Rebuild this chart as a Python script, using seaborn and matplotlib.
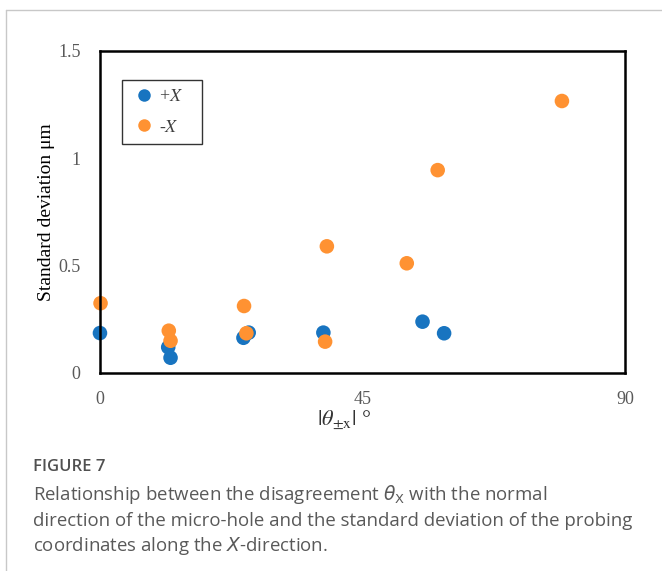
import matplotlib
matplotlib.use("Agg")
import matplotlib.pyplot as plt
import seaborn as sns
import pandas as pd
from matplotlib.lines import Line2D

# Data
plus_x_angle = [0.0, 11.7, 12.1, 24.6, 25.5, 38.3, 55.3, 59.0]
plus_x_std = [0.186, 0.120, 0.071, 0.164, 0.188, 0.188, 0.239, 0.185]
minus_x_angle = [0.1, 11.8, 12.1, 24.7, 25.1, 38.6, 38.9, 52.6, 57.9, 79.2]
minus_x_std = [0.325, 0.197, 0.150, 0.312, 0.185, 0.146, 0.590, 0.511, 0.945, 1.267]
series_labels = [r"+$X$", r"-$X$"]
x_ticks = [0, 45, 90]
y_ticks = [0, 0.5, 1, 1.5]
y_tick_labels = ["0", "0.5", "1", "1.5"]

df = pd.DataFrame({
    "angle": plus_x_angle + minus_x_angle,
    "std": plus_x_std + minus_x_std,
    "series": [series_labels[0]] * len(plus_x_angle) + [series_labels[1]] * len(minus_x_angle),
})
palette = {series_labels[0]: "#1874c0", series_labels[1]: "#ff9232"}

sns.set_style("white")
plt.rcParams["font.family"] = ["Liberation Serif", "DejaVu Serif"]
plt.rcParams["mathtext.fontset"] = "stix"

fig = plt.figure(figsize=(6.62, 5.71), dpi=100)
ax = fig.add_axes([0.151, 0.3468, 0.793, 0.5639])

sns.scatterplot(data=df, x="angle", y="std", hue="series", palette=palette,
                s=110, edgecolor="none", ax=ax, clip_on=False, legend=False)

ax.set_xlim(0, 90)
ax.set_ylim(0, 1.5)
ax.set_xticks(x_ticks)
ax.set_xticklabels([str(t) for t in x_ticks])
ax.set_yticks(y_ticks)
ax.set_yticklabels(y_tick_labels)
ax.tick_params(axis="x", direction="in", length=5, width=1.5, pad=13,
               labelsize=13, labelcolor="#595959", color="black")
ax.tick_params(axis="y", length=0, pad=14, labelsize=13, labelcolor="#595959")

for sp in ax.spines.values():
    sp.set_visible(True)
    sp.set_color("black")
    sp.set_linewidth(1.8)

ax.set_xlabel(r"$|\theta_{\pm\mathrm{x}}|$ °", fontsize=16, color="#333333")
ax.xaxis.set_label_coords(0.465, -0.113)
ax.set_ylabel("Standard deviation μm", fontsize=14, color="black")
ax.yaxis.set_label_coords(-0.086, 0.5)

handles = [Line2D([0], [0], marker="o", linestyle="none", markersize=9,
                  markerfacecolor=palette[lab], markeredgecolor="none") for lab in series_labels]
leg = ax.legend(handles, series_labels, loc="upper left",
                bbox_to_anchor=(0.042, 0.711, 0.152, 0.199), mode="expand",
                borderaxespad=0, frameon=True, fancybox=False, fontsize=13,
                handlelength=1.5, handletextpad=0.1, labelspacing=0.75,
                borderpad=0.45, labelcolor="#404040")
leg.get_frame().set_edgecolor("black")
leg.get_frame().set_linewidth(1.0)

# outer frame lines of the figure panel
fig.add_artist(Line2D([6 / 662, 1.0], [1 - 10 / 571, 1 - 10 / 571], color="#c8c8c8", lw=1.0))
fig.add_artist(Line2D([6 / 662, 6 / 662], [1 - 10 / 571, 0.0], color="#c8c8c8", lw=1.0))

cap_font = ["Open Sans", "DejaVu Sans"]
fig.text(33 / 662, 1 - 467 / 571, "FIGURE 7", fontsize=12, fontweight="semibold",
         color="#505050", family=cap_font, va="center")
caption = [
    r"Relationship between the disagreement $\theta_{\mathrm{X}}$ with the normal",
    "direction of the micro-hole and the standard deviation of the probing",
    r"coordinates along the $X$-direction.",
]
for i, line in enumerate(caption):
    fig.text(33 / 662, 1 - (495 + i * 25.5) / 571, line, fontsize=13.4, color="#595959",
             family=cap_font, va="center", math_fontfamily="dejavusans")

fig.savefig("out.png", dpi=100)
